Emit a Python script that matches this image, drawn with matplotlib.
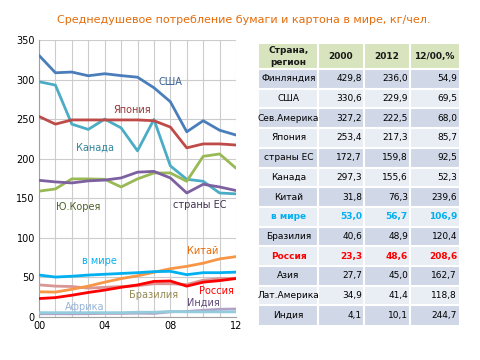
import matplotlib
matplotlib.use("Agg")
import matplotlib.pyplot as plt
from matplotlib.patches import Rectangle

plt.rcParams['font.family'] = ['DejaVu Sans']

years = list(range(0, 13))
year_ticks = [0, 4, 8, 12]
year_labels = ['00', '04', '08', '12']

usa    = [330.6, 308.6, 309.5, 304.8, 307.4, 305, 303, 289.7, 272, 234, 248, 236, 229.9]
canada = [297.3, 293, 243.7, 237, 250, 239, 210, 249.6, 191, 174, 171.5, 156.7, 155.6]
japan  = [253.4, 243.7, 249, 249, 249, 249, 249, 248, 240, 213.7, 218.7, 218.7, 217.3]
korea  = [159, 161.8, 174.5, 174.5, 174, 164.3, 174.5, 182, 182, 171.5, 203, 206, 188]
eu     = [172.7, 170.7, 169.4, 172, 173, 175.7, 183, 184, 175.7, 156.7, 167.7, 164.3, 159.8]
world  = [53.0, 50.5, 51.5, 53, 54, 55, 56, 57.3, 57.7, 53.5, 56, 56, 56.7]
china  = [31.8, 31.5, 35, 39, 44, 48.5, 52, 56.5, 61, 64, 68, 73.4, 76.3]
russia = [23.3, 24.5, 27.5, 31, 34, 37.5, 40.5, 45, 45.5, 39, 44, 46, 48.6]
brazil = [40.6, 39, 38.5, 36.5, 37.5, 38.5, 39.5, 42, 42, 41, 46.5, 48.5, 48.9]
india  = [4.1, 4.1, 4.0, 4.2, 4.5, 4.5, 4.8, 4.5, 6.5, 7, 8.5, 9.8, 10.1]
africa = [5.5, 5.5, 5.5, 5.5, 5.5, 5.5, 6, 6, 7, 6.5, 6.5, 6.5, 6.5]

series = [
    (usa, '#4a7ebb', 'США', 8.0, 297, '#376092'),
    (canada, '#4bacc6', 'Канада', 3.4, 214, '#31859c'),
    (japan, '#be4b48', 'Япония', 5.7, 261, '#953735'),
    (korea, '#98b954', 'Ю.Корея', 2.4, 139, '#4f6228'),
    (eu, '#7d60a0', 'страны ЕС', 9.8, 141, '#403151'),
    (brazil, '#d99694', 'Бразилия', 7.0, 28, '#948a54'),
    (china, '#f79646', 'Китай', 10.0, 84, '#e46c0a'),
    (world, '#00b0f0', 'в мире', 3.7, 71, '#00b0f0'),
    (russia, '#ff0000', 'Россия', 10.8, 33, '#ff0000'),
    (india, '#b3a2c7', 'Индия', 10.0, 18, '#604a7b'),
    (africa, '#93cddd', 'Африка', 2.8, 13, '#95b3d7'),
]

col_headers = ['Страна,\nрегион', '2000', '2012', '12/00,%']
regions = ['Финляндия', 'США', 'Сев.Америка', 'Япония', 'страны ЕС', 'Канада', 'Китай',
           'в мире', 'Бразилия', 'Россия', 'Азия', 'Лат.Америка', 'Индия']
v2000 = ['429,8', '330,6', '327,2', '253,4', '172,7', '297,3', '31,8', '53,0', '40,6', '23,3', '27,7', '34,9', '4,1']
v2012 = ['236,0', '229,9', '222,5', '217,3', '159,8', '155,6', '76,3', '56,7', '48,9', '48,6', '45,0', '41,4', '10,1']
ratio = ['54,9', '69,5', '68,0', '85,7', '92,5', '52,3', '239,6', '106,9', '120,4', '208,6', '162,7', '118,8', '244,7']

fig = plt.figure(figsize=(4.8, 3.6), dpi=100)
fig.patch.set_facecolor('white')

fig.text(244 / 480, 1 - 20 / 360, 'Среднедушевое потребление бумаги и картона в мире, кг/чел.',
         ha='center', va='center', color='#e46c0a', fontsize=8)

ax = fig.add_axes([39 / 480, 1 - 317 / 360, (236 - 39) / 480, (317 - 40) / 360])
for vals, c, lab, lx, ly, tc in series:
    ax.plot(years, vals, color=c, lw=2, solid_capstyle='round', zorder=3)
    ax.text(lx, ly, lab, color=tc, fontsize=7, ha='center', va='center', zorder=4)

ax.set_xlim(0, 12)
ax.set_ylim(0, 350)
ax.set_xticks(years, minor=True)
ax.set_xticks(year_ticks)
ax.set_xticklabels(year_labels)
ax.set_yticks(range(0, 351, 50))
ax.grid(True, which='both', color='#cccccc', lw=0.8, zorder=0)
ax.tick_params(which='both', length=0, labelsize=7, pad=3)
for s in ['top', 'right']:
    ax.spines[s].set_visible(False)
for s in ['left', 'bottom']:
    ax.spines[s].set_color('#a0a0a0')
    ax.spines[s].set_linewidth(0.8)

# table
tax = fig.add_axes([0, 0, 1, 1])
tax.set_xlim(0, 480)
tax.set_ylim(360, 0)
tax.axis('off')
col_x = [259, 318, 364, 410, 459]
top = 44
hdr_h = 25
row_h = 19.7
tax.add_patch(Rectangle((col_x[0], top), col_x[-1] - col_x[0], hdr_h, facecolor='#d7e4bd', edgecolor='none'))
for i in range(len(col_headers)):
    cx = (col_x[i] + col_x[i + 1]) / 2
    tax.text(cx, top + hdr_h / 2, col_headers[i], ha='center', va='center', fontsize=6.5,
             fontweight='bold', color='#1a1a1a', linespacing=1.3)
for r, name in enumerate(regions):
    y0 = top + hdr_h + r * row_h
    fc = '#d0d8e8' if r % 2 == 0 else '#e9edf4'
    tax.add_patch(Rectangle((col_x[0], y0), col_x[-1] - col_x[0], row_h, facecolor=fc, edgecolor='none'))
    tc = '#000000'
    fw = 'normal'
    if name == 'в мире':
        tc, fw = '#00b0f0', 'bold'
    elif name == 'Россия':
        tc, fw = '#ff0000', 'bold'
    ym = y0 + row_h / 2
    tax.text((col_x[0] + col_x[1]) / 2, ym, name, ha='center', va='center', fontsize=6.5, color=tc, fontweight=fw)
    for j, vals in enumerate([v2000, v2012, ratio]):
        tax.text(col_x[j + 2] - 2, ym, vals[r], ha='right', va='center', fontsize=6.5, color=tc, fontweight=fw)
# white cell borders
for x in col_x[1:-1]:
    tax.plot([x, x], [top, top + hdr_h + len(regions) * row_h], color='white', lw=1.5)
for r in range(len(regions)):
    y = top + hdr_h + r * row_h
    tax.plot([col_x[0], col_x[-1]], [y, y], color='white', lw=1.5)

fig.savefig('out.png', dpi=100)
